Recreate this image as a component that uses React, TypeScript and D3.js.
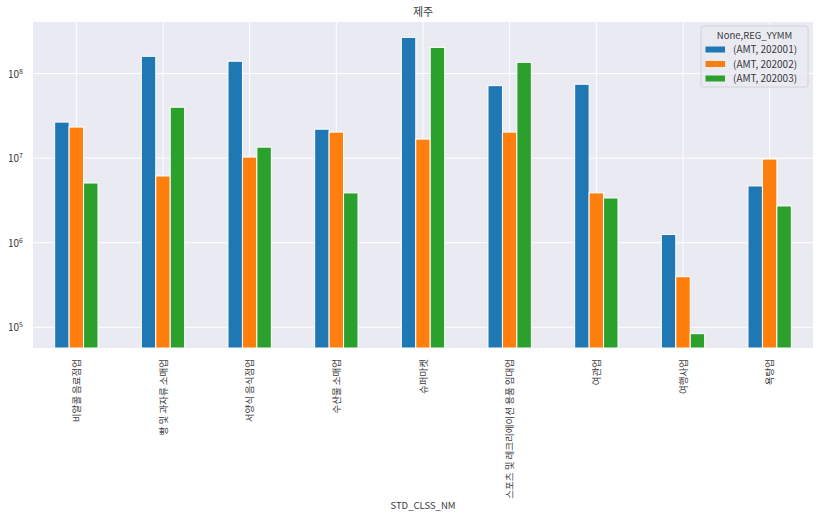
import React, { useRef, useEffect } from 'react';
import * as d3 from 'd3';

// 업종별 월 매출 (제주)
const categories = [
  '비알콜 음료점업',
  '빵 및 과자류 소매업',
  '서양식 음식점업',
  '수산물 소매업',
  '슈퍼마켓',
  '스포츠 및 레크리에이션 용품 임대업',
  '여관업',
  '여행사업',
  '욕탕업',
];

const seriesNames = ['(AMT, 202001)', '(AMT, 202002)', '(AMT, 202003)'];
const amt202001 = [2.67e7, 1.6e8, 1.4e8, 2.2e7, 2.68e8, 7.2e7, 7.48e7, 1.25e6, 4.69e6];
const amt202002 = [2.33e7, 6.15e6, 1.03e7, 2.03e7, 1.68e7, 2.03e7, 3.88e6, 3.96e5, 9.76e6];
const amt202003 = [5.08e6, 4.0e7, 1.35e7, 3.88e6, 2.04e8, 1.36e8, 3.38e6, 8.4e4, 2.72e6];
const yTicks = [1e5, 1e6, 1e7, 1e8];

const colors = ['#1f77b4', '#ff7f0e', '#2ca02c'];
const FONT = '"Noto Sans CJK KR", "Noto Sans", sans-serif';
const TEXT = '#3a3a3a';

export default function App() {
  const svgRef = useRef<SVGSVGElement>(null);

  useEffect(() => {
    if (!svgRef.current) return;
    const svg = d3.select(svgRef.current);
    svg.selectAll('*').remove();

    const width = 820;
    const height = 517;
    const margin = { top: 22, right: 7, bottom: 169, left: 33 };
    const innerWidth = width - margin.left - margin.right;
    const innerHeight = height - margin.top - margin.bottom;

    svg.attr('width', width).attr('height', height).style('font-family', FONT);

    const g = svg.append('g').attr('transform', `translate(${margin.left},${margin.top})`);

    const x = d3.scaleBand().domain(categories).range([0, innerWidth]).paddingInner(0).paddingOuter(0);
    const y = d3.scaleLog().domain([Math.pow(10, 4.755), Math.pow(10, 8.61)]).range([innerHeight, 0]);

    // plot background
    g.append('rect').attr('width', innerWidth).attr('height', innerHeight).attr('fill', '#eaeaf2');

    // grid
    g.selectAll('.hgrid')
      .data(yTicks)
      .enter().append('line')
      .attr('x1', 0).attr('x2', innerWidth)
      .attr('y1', d => y(d)).attr('y2', d => y(d))
      .attr('stroke', '#fff').attr('stroke-width', 1);

    g.selectAll('.vgrid')
      .data(categories)
      .enter().append('line')
      .attr('x1', d => (x(d) || 0) + x.bandwidth() / 2)
      .attr('x2', d => (x(d) || 0) + x.bandwidth() / 2)
      .attr('y1', 0).attr('y2', innerHeight)
      .attr('stroke', '#fff').attr('stroke-width', 1);

    // bars: group takes half of each band
    const series = [amt202001, amt202002, amt202003];
    const groupW = x.bandwidth() * 0.5;
    const barW = groupW / series.length;
    series.forEach((vals, si) => {
      g.selectAll(`.bar${si}`)
        .data(vals)
        .enter().append('rect')
        .attr('x', (d, i) => (x(categories[i]) || 0) + x.bandwidth() / 2 - groupW / 2 + si * barW)
        .attr('y', d => y(d))
        .attr('width', barW)
        .attr('height', d => innerHeight - y(d))
        .attr('fill', colors[si])
        .attr('stroke', '#fff')
        .attr('stroke-width', 1);
    });

    // y tick labels (10^n)
    const yt = g.selectAll('.ytick')
      .data(yTicks)
      .enter().append('text')
      .attr('x', -10)
      .attr('y', d => y(d) + 4)
      .attr('text-anchor', 'end')
      .attr('fill', TEXT)
      .style('font-size', '10px');
    yt.append('tspan').text('10');
    yt.append('tspan')
      .attr('dy', -4)
      .style('font-size', '7px')
      .text(d => String(Math.round(Math.log10(d))));

    // x tick labels, rotated
    g.selectAll('.xtick')
      .data(categories)
      .enter().append('text')
      .attr('transform', d => `translate(${(x(d) || 0) + x.bandwidth() / 2 + 3.5},${innerHeight + 11}) rotate(-90)`)
      .attr('text-anchor', 'end')
      .attr('fill', TEXT)
      .style('font-size', '9.5px')
      .text(d => d);

    // title and axis label
    svg.append('text')
      .attr('x', margin.left + innerWidth / 2)
      .attr('y', 16)
      .attr('text-anchor', 'middle')
      .attr('fill', TEXT)
      .style('font-size', '11px')
      .text('제주');

    svg.append('text')
      .attr('x', margin.left + innerWidth / 2)
      .attr('y', 509)
      .attr('text-anchor', 'middle')
      .attr('fill', TEXT)
      .style('font-size', '9.5px')
      .text('STD_CLSS_NM');

    // legend
    const lg = svg.append('g').attr('transform', 'translate(701,26)');
    lg.append('rect')
      .attr('width', 107).attr('height', 61).attr('rx', 2.5)
      .attr('fill', '#eaeaf2').attr('fill-opacity', 0.8)
      .attr('stroke', '#cccccc').attr('stroke-width', 0.8);
    lg.append('text')
      .attr('x', 53.5).attr('y', 12.5)
      .attr('text-anchor', 'middle')
      .attr('fill', TEXT)
      .style('font-size', '9.5px')
      .text('None,REG_YYMM');
    seriesNames.forEach((name, i) => {
      const row = lg.append('g').attr('transform', `translate(0,${23 + i * 14.5})`);
      row.append('rect')
        .attr('x', 4.5).attr('y', -2.5).attr('width', 19.5).attr('height', 6)
        .attr('fill', colors[i]);
      row.append('text')
        .attr('x', 32).attr('y', 4)
        .attr('fill', TEXT)
        .style('font-size', '10px')
        .text(name);
    });
  }, []);

  return (
    <div style={{ position: 'fixed', left: 0, top: 0, width: 820, height: 517, background: '#fff' }}>
      <svg ref={svgRef}></svg>
    </div>
  );
}
